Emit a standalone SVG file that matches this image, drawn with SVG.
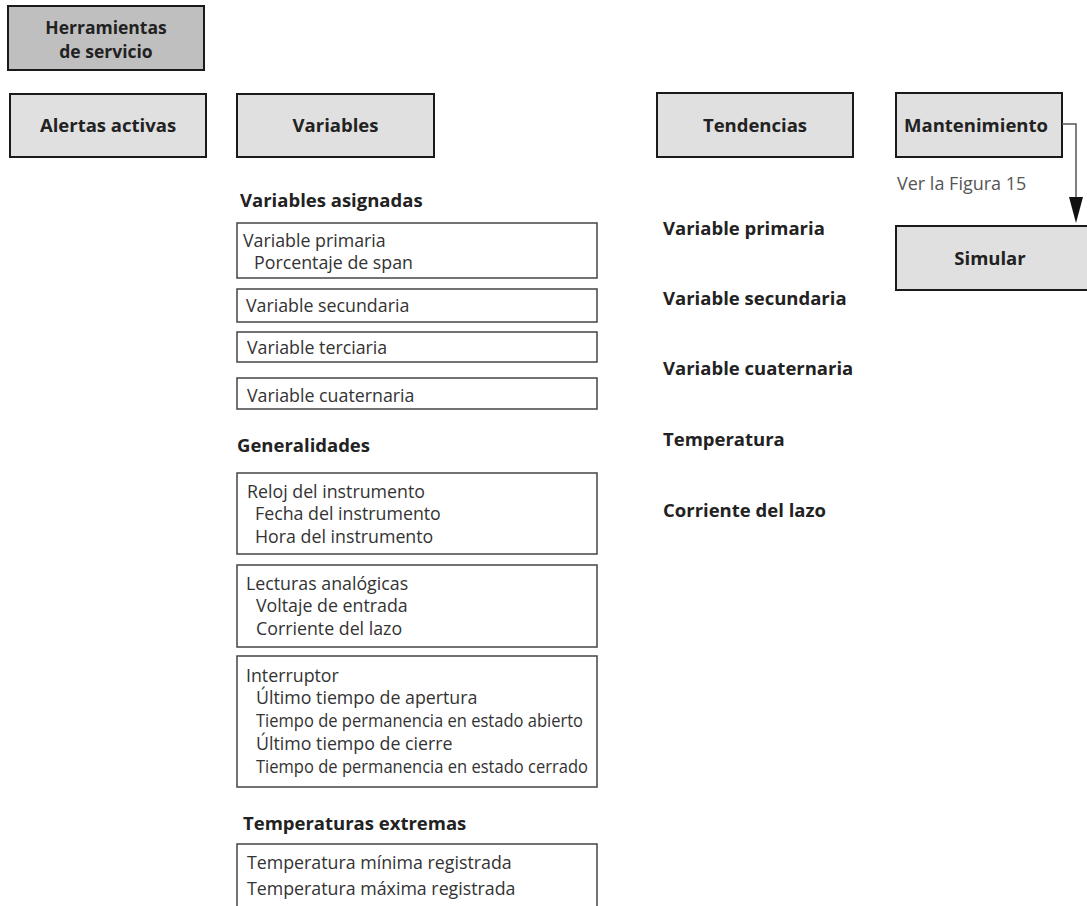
<svg xmlns="http://www.w3.org/2000/svg" width="1087" height="906" viewBox="0 0 1087 906">
<defs>
<style>
text{font-family:"Open Sans","Noto Sans","Liberation Sans",sans-serif;fill:#222}
.b{font-weight:bold;font-size:18.5px}
.r{font-size:17.8px;fill:#333}
.c{text-anchor:middle}
.nav{fill:#e0e0e0;stroke:#1a1a1a;stroke-width:2}
.top{fill:#bfbfbf;stroke:#1a1a1a;stroke-width:2}
.box{fill:#fff;stroke:#444;stroke-width:1.5}
.conn{fill:none;stroke:#555;stroke-width:1.5}
</style>
</defs>
<rect width="1087" height="906" fill="#fff"/>
<g id="herramientas"><rect class="top" x="8" y="6" width="196" height="64"/><text class="b c" x="106" y="34" style="font-size:17.5px">Herramientas</text><text class="b c" x="106" y="58" style="font-size:17.5px">de servicio</text></g>
<g id="alertas"><rect class="nav" x="10" y="94" width="196" height="63"/><text class="b c" x="108" y="132">Alertas activas</text></g>
<g id="variables"><rect class="nav" x="237" y="94" width="197" height="63"/><text class="b c" x="335.5" y="132">Variables</text></g>
<g id="tendencias"><rect class="nav" x="657" y="93" width="196" height="64"/><text class="b c" x="755" y="132">Tendencias</text></g>
<g id="mantenimiento"><rect class="nav" x="896" y="93" width="166" height="64"/><text class="b c" x="976" y="132">Mantenimiento</text></g>
<g id="simular"><rect class="nav" x="896" y="226" width="196" height="64"/><text class="b c" x="990" y="265">Simular</text></g>
<g id="connectors"><path class="conn" d="M1062,124 H1076 V198"/><polygon points="1069,197 1083,197 1076,223" fill="#111"/></g>
<text class="r" x="897" y="190" style="fill:#555;font-size:18px">Ver la Figura 15</text>
<g id="tendencias-list">
<text class="b" x="663" y="235">Variable primaria</text>
<text class="b" x="663" y="305">Variable secundaria</text>
<text class="b" x="663" y="375">Variable cuaternaria</text>
<text class="b" x="663" y="446">Temperatura</text>
<text class="b" x="663" y="517">Corriente del lazo</text>
</g>
<g id="variables-asignadas">
<text class="b" x="240" y="207">Variables asignadas</text>
<rect class="box" x="237" y="223" width="360" height="55"/>
<text class="r" x="243" y="247">Variable primaria</text>
<text class="r" x="254" y="269">Porcentaje de span</text>
<rect class="box" x="237" y="289" width="360" height="33"/>
<text class="r" x="246" y="312">Variable secundaria</text>
<rect class="box" x="237" y="332" width="360" height="30"/>
<text class="r" x="247" y="354">Variable terciaria</text>
<rect class="box" x="237" y="378" width="360" height="31"/>
<text class="r" x="247" y="402">Variable cuaternaria</text>
</g>
<g id="generalidades">
<text class="b" x="237" y="452">Generalidades</text>
<rect class="box" x="237" y="473" width="360" height="81"/>
<text class="r" x="247" y="498">Reloj del instrumento</text>
<text class="r" x="255" y="520">Fecha del instrumento</text>
<text class="r" x="255" y="543">Hora del instrumento</text>
<rect class="box" x="237" y="565" width="360" height="82"/>
<text class="r" x="246" y="590">Lecturas analógicas</text>
<text class="r" x="256" y="612">Voltaje de entrada</text>
<text class="r" x="256" y="635">Corriente del lazo</text>
<rect class="box" x="237" y="656" width="360" height="131"/>
<text class="r" x="246" y="682">Interruptor</text>
<text class="r" x="256" y="704">Último tiempo de apertura</text>
<text class="r" x="256" y="727" textLength="327" lengthAdjust="spacingAndGlyphs">Tiempo de permanencia en estado abierto</text>
<text class="r" x="256" y="750">Último tiempo de cierre</text>
<text class="r" x="256" y="773" textLength="332" lengthAdjust="spacingAndGlyphs">Tiempo de permanencia en estado cerrado</text>
</g>
<g id="temperaturas-extremas">
<text class="b" x="243" y="830">Temperaturas extremas</text>
<path class="box" d="M237,910 V844 H597 V910"/>
<text class="r" x="247" y="869">Temperatura mínima registrada</text>
<text class="r" x="247" y="895">Temperatura máxima registrada</text>
</g>
</svg>
